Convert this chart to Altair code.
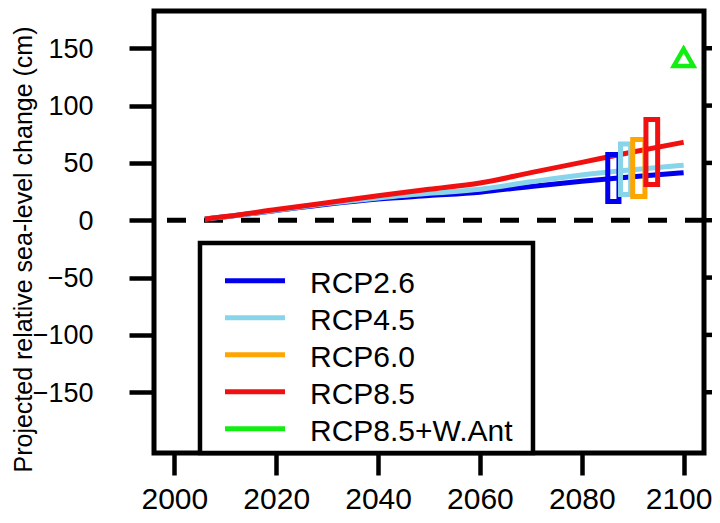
import altair as alt
import pandas as pd

# ---- data ----
years = [2006, 2010, 2020, 2030, 2040, 2050, 2060, 2070, 2080, 2090, 2100]
rcp26 = [1.0, 3.0, 8.5, 14.0, 18.5, 21.5, 24.5, 29.5, 34.0, 38.0, 41.5]
rcp45 = [1.0, 3.0, 8.8, 14.5, 19.5, 23.5, 27.0, 33.5, 39.5, 44.0, 48.0]
rcp85 = [1.0, 3.2, 9.3, 15.3, 21.3, 27.0, 32.5, 41.5, 50.5, 59.5, 68.0]

scenarios = ["RCP2.6", "RCP4.5", "RCP6.0", "RCP8.5", "RCP8.5+W.Ant"]
colors = ["#0000EE", "#88D4EA", "#FFA500", "#F01010", "#11EE11"]

box_names = ["RCP2.6", "RCP4.5", "RCP6.0", "RCP8.5"]
box_x1 = [2085.1, 2087.6, 2090.0, 2092.6]
box_x2 = [2087.3, 2089.6, 2092.4, 2094.9]
box_low = [16.4, 22.5, 20.8, 31.2]
box_high = [57.4, 66.5, 70.5, 87.9]

wais_year = [2100]
wais_value = [142]

x_ticks = [2000, 2020, 2040, 2060, 2080, 2100]
y_ticks = [-150, -100, -50, 0, 50, 100, 150]

# ---- tables ----
lines_df = pd.DataFrame({
    "year": years * 3,
    "value": rcp26 + rcp45 + rcp85,
    "scenario": ["RCP2.6"] * len(years) + ["RCP4.5"] * len(years) + ["RCP8.5"] * len(years),
})
box_df = pd.DataFrame({"scenario": box_names, "x1": box_x1, "x2": box_x2,
                       "low": box_low, "high": box_high})
tri_df = pd.DataFrame({"year": wais_year, "value": wais_value})
legend_df = pd.DataFrame({"label": scenarios, "color": colors})
tick_df = pd.DataFrame({"tick": y_ticks})
one = pd.DataFrame({"a": [0]})

xs = alt.Scale(domain=[1996, 2104], nice=False, zero=False)
ys = alt.Scale(domain=[-203, 182.5], nice=False, zero=False)
cs = alt.Scale(domain=scenarios, range=colors)
FONT = "Liberation Sans"

zero_rule = alt.Chart(one).mark_rule(
    color="black", strokeWidth=5, strokeDash=[19, 18]
).encode(y=alt.YDatum(0, scale=ys, axis=None))

lines = alt.Chart(lines_df).mark_line(strokeWidth=5, interpolate="monotone", strokeCap="butt").encode(
    x=alt.X("year:Q", scale=xs, axis=alt.Axis(
        orient="bottom", values=x_ticks, format="d", title=None, labelFontSize=30,
        labelFont=FONT, labelBaseline="alphabetic", labelPadding=33.5, tickSize=22, tickWidth=4.5,
        labelOffset=alt.condition("datum.value == 2100", alt.value(-5), alt.value(0)))),
    y=alt.Y("value:Q", scale=ys, axis=alt.Axis(
        orient="left", values=y_ticks, title="Projected relative sea-level change (cm)",
        labelFont=FONT, titleFont=FONT,
        labelFontSize=27, labelPadding=36, tickSize=25, tickWidth=4.5, labelOffset=1,
        titleFontSize=25, titleFontWeight="normal", titleAngle=270, titleX=-123, titleY=238,
        titleBaseline="alphabetic", titleAlign="center")),
    color=alt.Color("scenario:N", scale=cs, legend=None),
)

# tick marks of the neighbouring panel's axis on the right edge
right_ticks = alt.Chart(tick_df).mark_rule(color="black", strokeWidth=4.5).encode(
    x=alt.XDatum(2104, scale=xs, axis=None),
    x2=alt.X2Datum(2108),
    y=alt.Y("tick:Q", scale=ys, axis=None),
)

boxes = alt.Chart(box_df).mark_rect(fill="white", fillOpacity=0, strokeWidth=5).encode(
    x=alt.X("x1:Q", scale=xs, axis=None),
    x2="x2:Q",
    y=alt.Y("low:Q", scale=ys, axis=None),
    y2="high:Q",
    stroke=alt.Stroke("scenario:N", scale=cs, legend=None),
)

tri = alt.Chart(tri_df).mark_point(
    shape="triangle-up", filled=False, size=380, strokeWidth=4.5, color="#11EE11", opacity=1
).encode(
    x=alt.X("year:Q", scale=xs, axis=None),
    y=alt.Y("value:Q", scale=ys, axis=None),
)

legend_box = alt.Chart(one).mark_rect(fill="white", stroke="black", strokeWidth=4.5).encode(
    x=alt.XDatum(2005.03, scale=xs, axis=None),
    x2=alt.X2Datum(2070.42),
    y=alt.YDatum(-19.84, scale=ys, axis=None),
    y2=alt.Y2Datum(-203),
)

legend_base = alt.Chart(legend_df).transform_window(
    idx="row_number()"
).transform_calculate(
    ly="-52.72 - 32.27 * (datum.idx - 1)",
    ty="-63.19 - 32.27 * (datum.idx - 1)",
    lx1="2009.94", lx2="2021.72", tx="2026.63",
)

legend_lines = legend_base.mark_rule(strokeWidth=5).encode(
    x=alt.X("lx1:Q", scale=xs, axis=None),
    x2="lx2:Q",
    y=alt.Y("ly:Q", scale=ys, axis=None),
    color=alt.Color("label:N", scale=cs, legend=None),
)

legend_text = legend_base.mark_text(
    align="left", baseline="alphabetic", fontSize=30, font=FONT, color="black"
).encode(
    x=alt.X("tx:Q", scale=xs, axis=None),
    y=alt.Y("ty:Q", scale=ys, axis=None),
    text="label:N",
)

chart = alt.layer(
    zero_rule, lines, right_ticks, boxes, tri, legend_box, legend_lines, legend_text
).resolve_axis(x="independent", y="independent").properties(
    width=550, height=442,
    autosize=alt.AutoSizeParams(type="none"),
    padding={"left": 146, "top": 3, "right": 8, "bottom": 62},
    background="white",
).configure_view(
    stroke="black", strokeWidth=5
).configure_axis(
    domain=False, grid=False, labelFont=FONT, titleFont=FONT,
    tickColor="black", labelColor="black", titleColor="black",
)

chart.save("out.html", embed_options={"renderer": "svg", "actions": False})
